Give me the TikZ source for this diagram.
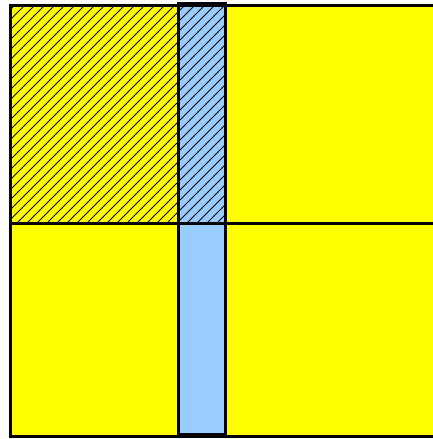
\documentclass[tikz,border=0pt]{standalone}
\usetikzlibrary{calc}
\definecolor{ylw}{RGB}{255,255,0}
\definecolor{lblue}{RGB}{153,204,255}
\tikzset{
  thickline/.style={line width=3pt, draw=black},
  hatchline/.style={line width=0.9pt, draw=black},
}
\begin{document}
\begin{tikzpicture}[x=1pt,y=-1pt]
\useasboundingbox (0,0) rectangle (432,439);
\coordinate (yA) at (10.5,5);
\coordinate (yB) at (445,436.5);
\coordinate (bA) at (178,3.5);
\coordinate (bB) at (225,434.5);
\coordinate (hA) at (10.5,5);
\coordinate (hB) at (225,223);
\coordinate (mL) at (10.5,223);
\coordinate (mR) at (445,223);
% fills
\fill[ylw] (yA) rectangle (yB);
\fill[lblue] (bA) rectangle (bB);
% hatching
\begin{scope}
\clip (hA) rectangle (hB);
\foreach \k in {-30,...,50}{
  \draw[hatchline] (\k*10,240) -- ++(250,-250);
}
\end{scope}
% borders
\draw[thickline] (yA) rectangle (yB);
\draw[thickline] (mL) -- (mR);
\draw[line width=1.5pt] (hA) rectangle (hB);
\draw[thickline] (bA) rectangle (bB);
\end{tikzpicture}
\end{document}
